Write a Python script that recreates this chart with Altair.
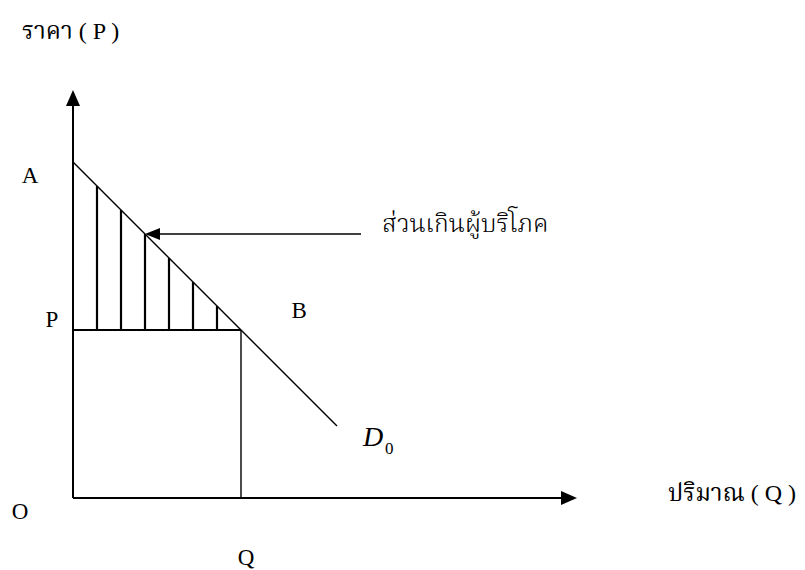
import altair as alt
import pandas as pd

# ---- values (quantity / price units) ----
demand_q = [0, 11]          # demand curve D0 end points (quantity)
demand_p = [14, 3]          # demand curve D0 end points (price)
eq_q = 7                    # equilibrium quantity Q
eq_p = 7                    # equilibrium price P
hatch_q = [1, 2, 3, 4, 5, 6]        # consumer-surplus hatch lines
hatch_top = [13, 12, 11, 10, 9, 8]  # where they meet the demand curve
axis_q_max = 21             # end of quantity axis (arrow tip)
axis_p_max = 17             # end of price axis (arrow tip)
note_from_q = 12            # annotation arrow start
note_to_q = 3               # annotation arrow target on demand curve
note_p = 11

title_p = "ราคา ( P )"
title_q = "ปริมาณ ( Q )"
note_text = "ส่วนเกินผู้บริโภค"
point_labels = ["A", "P", "B", "O", "Q"]

PX = 24.0  # pixels per unit
H = 561
X = alt.Scale(domain=[-65 / PX, 724 / PX], nice=False, zero=False)
Y = alt.Scale(domain=[-(H - 490) / PX, 490 / PX], nice=False, zero=False)

# ---- line segments ----
seg = [
    dict(x=0, y=0, x2=0, y2=axis_p_max - 0.5, w=2.0),
    dict(x=0, y=0, x2=axis_q_max - 0.5, y2=0, w=2.0),
    dict(x=demand_q[0], y=demand_p[0], x2=demand_q[1], y2=demand_p[1], w=1.4),
    dict(x=0, y=eq_p, x2=eq_q, y2=eq_p, w=2.0),
    dict(x=eq_q, y=0, x2=eq_q, y2=eq_p, w=1.4),
    dict(x=note_to_q + 0.5, y=note_p, x2=note_from_q, y2=note_p, w=1.5),
]
for q, t in zip(hatch_q, hatch_top):
    seg.append(dict(x=q, y=eq_p, x2=q, y2=t, w=2.2))
seg_df = pd.DataFrame(seg)

rules = alt.Chart(seg_df).mark_rule(color="black").encode(
    x=alt.X("x:Q", scale=X, axis=None),
    y=alt.Y("y:Q", scale=Y, axis=None),
    x2="x2:Q",
    y2="y2:Q",
    strokeWidth=alt.StrokeWidth("w:Q", scale=None, legend=None),
)

# ---- arrow heads ----
heads_df = pd.DataFrame([
    dict(x=0, y=axis_p_max, shp="M0,0L0.875,2L-0.875,2Z", s=256),
    dict(x=axis_q_max, y=0, shp="M0,0L-2,-0.875L-2,0.875Z", s=256),
    dict(x=note_to_q, y=note_p, shp="M0,0L2,-0.8L2,0.8Z", s=225),
])
heads = alt.Chart(heads_df).mark_point(filled=True, color="black", opacity=1, strokeWidth=0).encode(
    x=alt.X("x:Q", scale=X, axis=None),
    y=alt.Y("y:Q", scale=Y, axis=None),
    shape=alt.Shape("shp:N", scale=None, legend=None),
    size=alt.Size("s:Q", scale=None, legend=None),
)

# ---- labels ----
lab_df = pd.DataFrame([
    dict(t=point_labels[0], x=-1.79, y=13.4),
    dict(t=point_labels[1], x=-0.875, y=7.42),
    dict(t=point_labels[2], x=9.42, y=7.79),
    dict(t=point_labels[3], x=-2.21, y=-0.58),
    dict(t=point_labels[4], x=7.21, y=-2.5),
])
labels = alt.Chart(lab_df).mark_text(
    font="Liberation Serif", fontSize=23, color="black", align="center", baseline="middle"
).encode(
    x=alt.X("x:Q", scale=X, axis=None),
    y=alt.Y("y:Q", scale=Y, axis=None),
    text="t:N",
)

thai_font = "Liberation Serif, Noto Serif Thai, Noto Sans Thai, Loma, Garuda, serif"
thai_df = pd.DataFrame([
    dict(t=title_p, x=-2.125, y=19.42),
    dict(t=title_q, x=24.79, y=0.17),
])
thai = alt.Chart(thai_df).mark_text(
    font=thai_font, fontSize=24, color="black", align="left", baseline="middle"
).encode(
    x=alt.X("x:Q", scale=X, axis=None),
    y=alt.Y("y:Q", scale=Y, axis=None),
    text="t:N",
)

note_df = pd.DataFrame([dict(t=note_text, x=12.875, y=11.42)])
note = alt.Chart(note_df).mark_text(
    font="Noto Serif Thai, Noto Sans Thai, Loma, Garuda, sans-serif", fontSize=25,
    fontWeight=300, color="black", align="left", baseline="middle"
).encode(
    x=alt.X("x:Q", scale=X, axis=None),
    y=alt.Y("y:Q", scale=Y, axis=None),
    text="t:N",
)

d_df = pd.DataFrame([dict(t="D", x=12.08, y=2.5)])
d_lab = alt.Chart(d_df).mark_text(
    font="Liberation Serif", fontSize=28, fontStyle="italic", color="black",
    align="left", baseline="middle"
).encode(
    x=alt.X("x:Q", scale=X, axis=None),
    y=alt.Y("y:Q", scale=Y, axis=None),
    text="t:N",
)
sub_df = pd.DataFrame([dict(t="0", x=13.0, y=2.04)])
sub_lab = alt.Chart(sub_df).mark_text(
    font="Liberation Serif", fontSize=17, color="black", align="left", baseline="middle"
).encode(
    x=alt.X("x:Q", scale=X, axis=None),
    y=alt.Y("y:Q", scale=Y, axis=None),
    text="t:N",
)

chart = alt.layer(rules, heads, labels, thai, note, d_lab, sub_lab).properties(
    width=789, height=H,
    autosize=alt.AutoSizeParams(type="none"),
    padding=0,
    background="white",
).configure_view(stroke=None)

chart.save("out.html", embed_options={"renderer": "svg", "actions": False})
